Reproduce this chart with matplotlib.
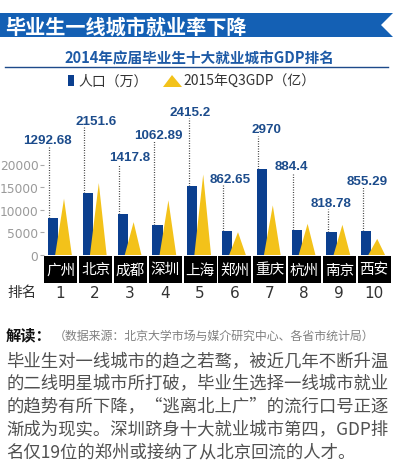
import matplotlib
matplotlib.use('Agg')
import matplotlib.pyplot as plt
from matplotlib.patches import Polygon, Rectangle
from matplotlib.transforms import blended_transform_factory

plt.rcParams['font.family'] = ['Noto Sans CJK SC', 'DejaVu Sans']

# data
cities = ['广州', '北京', '成都', '深圳', '上海', '郑州', '重庆', '杭州', '南京', '西安']
ranks = ['1', '2', '3', '4', '5', '6', '7', '8', '9', '10']
population = [1292.68, 2151.6, 1417.8, 1062.89, 2415.2, 862.65, 2970, 884.4, 818.78, 855.29]
bar_height = [8150, 13700, 8960, 6670, 15330, 5400, 18960, 5550, 5180, 5330]
gdp_height = [12440, 15900, 7260, 12070, 17780, 5040, 10960, 6890, 6670, 3560]
yticks = [0, 5000, 10000, 15000, 20000]

# layout of the value labels (heights in axis units, x shift in groups)
label_y = [24700, 28900, 20900, 25800, 30900, 16200, 27100, 18900, 10900, 15800]
label_dx = [-0.07, 0.34, 0.31, 0.14, 0.03, 0.20, 0.23, -0.06, 0.09, 0.12]

W, H = 394, 477
BLUE = '#0b3f8f'
YELLOW = '#f3c21a'
LABEL = '#1c4c8c'

fig = plt.figure(figsize=(W / 100, H / 100), dpi=100)
fig.patch.set_facecolor('white')


def fx(px):
    return px / W


def fy(py):
    return 1 - py / H


# title banner with notch
banner = Polygon([(fx(0), fy(14)), (fx(393), fy(14)), (fx(381), fy(26)),
                  (fx(393), fy(38)), (fx(0), fy(38))],
                 closed=True, facecolor='#1460b4', edgecolor='none',
                 transform=fig.transFigure)
fig.patches.append(banner)
fig.text(fx(5), fy(27), '毕业生一线城市就业率下降', color='white', fontsize=14.5,
         fontweight='bold', va='center', ha='left')

fig.text(fx(199), fy(58), '2014年应届毕业生十大就业城市GDP排名', color='#1d5aa6',
         fontsize=10.5, fontweight='bold', va='center', ha='center')
fig.lines.append(plt.Line2D([fx(5), fx(388)], [fy(68), fy(68)], color='#1d4a8a',
                            lw=1, transform=fig.transFigure))

# legend
fig.patches.append(Rectangle((fx(68), fy(87)), fx(6), 11 / H, facecolor=BLUE,
                             edgecolor='none', transform=fig.transFigure))
fig.text(fx(78), fy(82), '人口（万）', fontsize=10, color='#333333', va='center')
fig.patches.append(Polygon([(fx(163), fy(88)), (fx(172), fy(76)), (fx(182), fy(88))],
                           facecolor=YELLOW, edgecolor='none', transform=fig.transFigure))
fig.text(fx(183), fy(82), '2015年Q3GDP（亿）', fontsize=10, color='#333333', va='center')

# chart axes: zero at 256 px, top at 95 px
ax_top, ax_bot = 95, 256
ax = fig.add_axes([fx(44), fy(ax_bot), fx(348), (ax_bot - ax_top) / H])
px_per_unit = 4.525 / 1000
ax.set_ylim(0, (ax_bot - ax_top) / px_per_unit)
ax.set_xlim(0, 10)
for s in ax.spines.values():
    s.set_visible(False)
ax.set_xticks([])
ax.set_yticks(yticks)
ax.set_yticklabels([str(t) for t in yticks], fontsize=8.8, color='#9a9a9a',
                   family='DejaVu Sans')
ax.tick_params(axis='y', length=3, color='#aaaaaa', pad=1)
ax.patch.set_alpha(0)

for i in range(len(cities)):
    ax.bar(i + 0.115, bar_height[i], width=0.295, align='edge', color=BLUE, zorder=2)
    ax.fill([i + 0.32, i + 0.575, i + 0.80], [0, gdp_height[i], 0], color=YELLOW,
            lw=0, zorder=3)
    lx = i + 0.155
    ax.plot([lx, lx], [bar_height[i], label_y[i] - 700], ls=(0, (0.8, 1.2)),
            color='#444444', lw=0.9, zorder=1, clip_on=False)
    ax.text(lx + label_dx[i], label_y[i], f'{population[i]:g}',
            ha='center', va='baseline', fontsize=9.6, fontweight='bold', color=LABEL,
            family=['Liberation Sans', 'DejaVu Sans'], clip_on=False)

# city boxes and rank row below the axes
tr = blended_transform_factory(ax.transData, fig.transFigure)
for i in range(len(cities)):
    ax.add_patch(Rectangle((i + 0.01, fy(283.5)), 0.95, 27 / H, facecolor='black',
                           edgecolor='none', transform=tr, clip_on=False))
    ax.text(i + 0.485, fy(270.5), cities[i], transform=tr, ha='center', va='center',
            color='white', fontsize=10.5, clip_on=False)
    ax.text(i + 0.47, fy(293), ranks[i], transform=tr, ha='center', va='center',
            color='#333333', fontsize=11, family='DejaVu Sans', clip_on=False)
fig.text(fx(7), fy(293), '排名', fontsize=10.5, color='#333333', va='center')

# explanation block
fig.text(fx(6), fy(335), '解读：', fontsize=11, fontweight='bold', color='#111111',
         va='center')
fig.text(fx(54), fy(336), '（数据来源：北京大学市场与媒介研究中心、各省市统计局）',
         fontsize=8.6, color='#808080', va='center')
lines = ['毕业生对一线城市的趋之若鹜，被近几年不断升温',
         '的二线明星城市所打破，毕业生选择一线城市就业',
         '的趋势有所下降，“逃离北上广”的流行口号正逐',
         '渐成为现实。深圳跻身十大就业城市第四，GDP排',
         '名仅19位的郑州或接纳了从北京回流的人才。']
for k, line in enumerate(lines):
    fig.text(fx(6), fy(361.7 + 22.8 * k), line, fontsize=12.5, color='#505050',
             va='center', ha='left')

fig.savefig('out.png', dpi=100)
